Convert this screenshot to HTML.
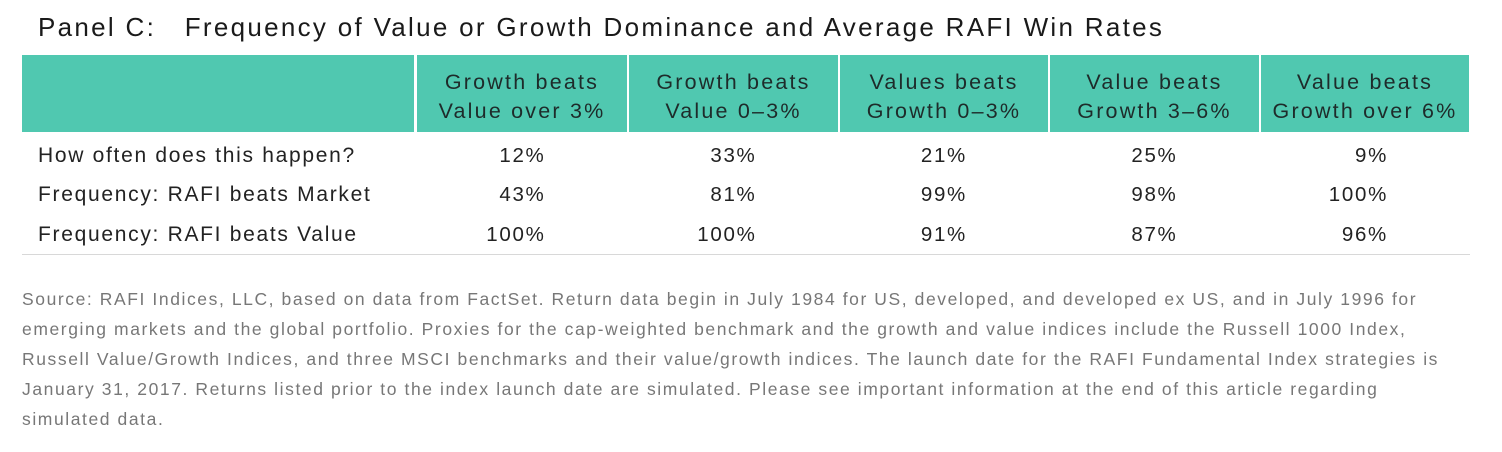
<!DOCTYPE html>
<html><head><meta charset="utf-8"><style>
body{margin:0;width:1502px;height:452px;background:#fff;font-family:"Liberation Sans",sans-serif;color:#222;position:relative;overflow:hidden}
.title{position:absolute;left:38px;top:12px;font-size:26px;letter-spacing:2.3px;color:#1a1a1a;white-space:pre}
.hdr{position:absolute;top:55px;height:77px;background:#50c8b0}
.hdr span{position:absolute;left:0;right:0;top:13px;text-align:center;font-size:21.5px;letter-spacing:2.2px;line-height:29px;color:#1e2b2a}
.lab{position:absolute;left:38px;font-size:21px;letter-spacing:1.7px;white-space:nowrap}
.val{position:absolute;font-size:20.5px;letter-spacing:1.7px;text-align:right;width:90px}
.rule{position:absolute;left:22px;top:254px;width:1448px;height:1px;background:#d8d8d8}
.src{position:absolute;left:22px;top:284px;width:1480px;font-size:17.5px;letter-spacing:1.58px;line-height:30px;color:#777;white-space:nowrap}
</style></head><body>
<div class="title">Panel C:   Frequency of Value or Growth Dominance and Average RAFI Win Rates</div>
<div id="t"></div>
<div class="rule"></div>
<div class="src">Source: RAFI Indices, LLC, based on data from FactSet. Return data begin in July 1984 for US, developed, and developed ex US, and in July 1996 for<br>emerging markets and the global portfolio. Proxies for the cap-weighted benchmark and the growth and value indices include the Russell 1000 Index,<br>Russell Value/Growth Indices, and three MSCI benchmarks and their value/growth indices. The launch date for the RAFI Fundamental Index strategies is<br>January 31, 2017. Returns listed prior to the index launch date are simulated. Please see important information at the end of this article regarding<br>simulated data.</div>
<script>
const categories=["Growth beats<br>Value over 3%","Growth beats<br>Value 0–3%","Values beats<br>Growth 0–3%","Value beats<br>Growth 3–6%","Value beats<br>Growth over 6%"];
const rowLabels=["How often does this happen?","Frequency: RAFI beats Market","Frequency: RAFI beats Value"];
const howOften=["12%","33%","21%","25%","9%"];
const beatsMarket=["43%","81%","99%","98%","100%"];
const beatsValue=["100%","100%","91%","87%","96%"];
const rows=[howOften,beatsMarket,beatsValue];
const t=document.getElementById('t');
const edges=[22,416,627,838,1048,1259,1469];
const rowY=[144,183,223];
function add(html,cls,style){const d=document.createElement('div');d.className=cls;d.innerHTML=html;d.setAttribute('style',style);t.appendChild(d);return d;}
const h0=add('','hdr',`left:22px;width:392px`);


categories.forEach((c,i)=>{
 const l=edges[i+1]+(i==0?1:2),w=edges[i+2]-l;
 const h=add('<span>'+c+'</span>','hdr',`left:${l}px;width:${w}px`);
 
 
});
rowLabels.forEach((r,j)=>{
 const d=add(r,'lab',`top:${rowY[j]}px`);
 
 
 rows[j].forEach((v,i)=>{
  const cx=(edges[i+1]+edges[i+2])/2;
  const e=add(v,'val',`top:${rowY[j]}px;left:${cx+24-90}px`);
  
  
 });
});
</script>
</body></html>
